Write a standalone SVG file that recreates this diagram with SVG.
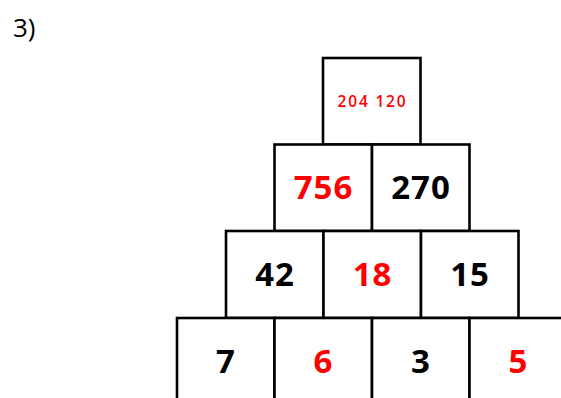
<svg xmlns="http://www.w3.org/2000/svg" width="561" height="398" viewBox="0 0 561 398">
<style>
.cell{fill:#fff;stroke:#000;stroke-width:2.6}
.n{font-family:"Open Sans","DejaVu Sans",sans-serif;font-weight:bold;font-size:33px;text-anchor:middle;letter-spacing:1px}
.r{fill:#ff0000}
.k{fill:#000}
</style>
<rect width="561" height="398" fill="#fff"/>
<text x="13" y="37" font-family="Open Sans, sans-serif" font-size="26" fill="#000">3)</text>
<g id="top">
<rect class="cell" x="323" y="58" width="97.5" height="86.5"/>
<text x="372.5" y="107" font-family="Open Sans, sans-serif" font-weight="600" font-size="15.5" letter-spacing="1.8" text-anchor="middle" fill="#ff0000">204 120</text>
</g>
<g id="r2c1"><rect class="cell" x="274.5" y="144.5" width="97.5" height="86.5"/><text class="n r" x="323.5" y="199">756</text></g>
<g id="r2c2"><rect class="cell" x="372" y="144.5" width="97.5" height="86.5"/><text class="n k" x="421" y="199">270</text></g>
<g id="r3c1"><rect class="cell" x="226" y="231" width="97.5" height="87"/><text class="n k" x="275" y="286">42</text></g>
<g id="r3c2"><rect class="cell" x="323.5" y="231" width="97.5" height="87"/><text class="n r" x="372.5" y="286">18</text></g>
<g id="r3c3"><rect class="cell" x="421" y="231" width="97.5" height="87"/><text class="n k" x="470" y="286">15</text></g>
<g id="r4c1"><rect class="cell" x="177" y="318" width="97.5" height="90"/><text class="n k" x="226" y="373">7</text></g>
<g id="r4c2"><rect class="cell" x="274.5" y="318" width="97.5" height="90"/><text class="n r" x="323.5" y="373">6</text></g>
<g id="r4c3"><rect class="cell" x="372" y="318" width="97.5" height="90"/><text class="n k" x="421" y="373">3</text></g>
<g id="r4c4"><rect class="cell" x="469.5" y="318" width="97.5" height="90"/><text class="n r" x="518.5" y="373">5</text></g>
<g id="connectors"/>
</svg>
